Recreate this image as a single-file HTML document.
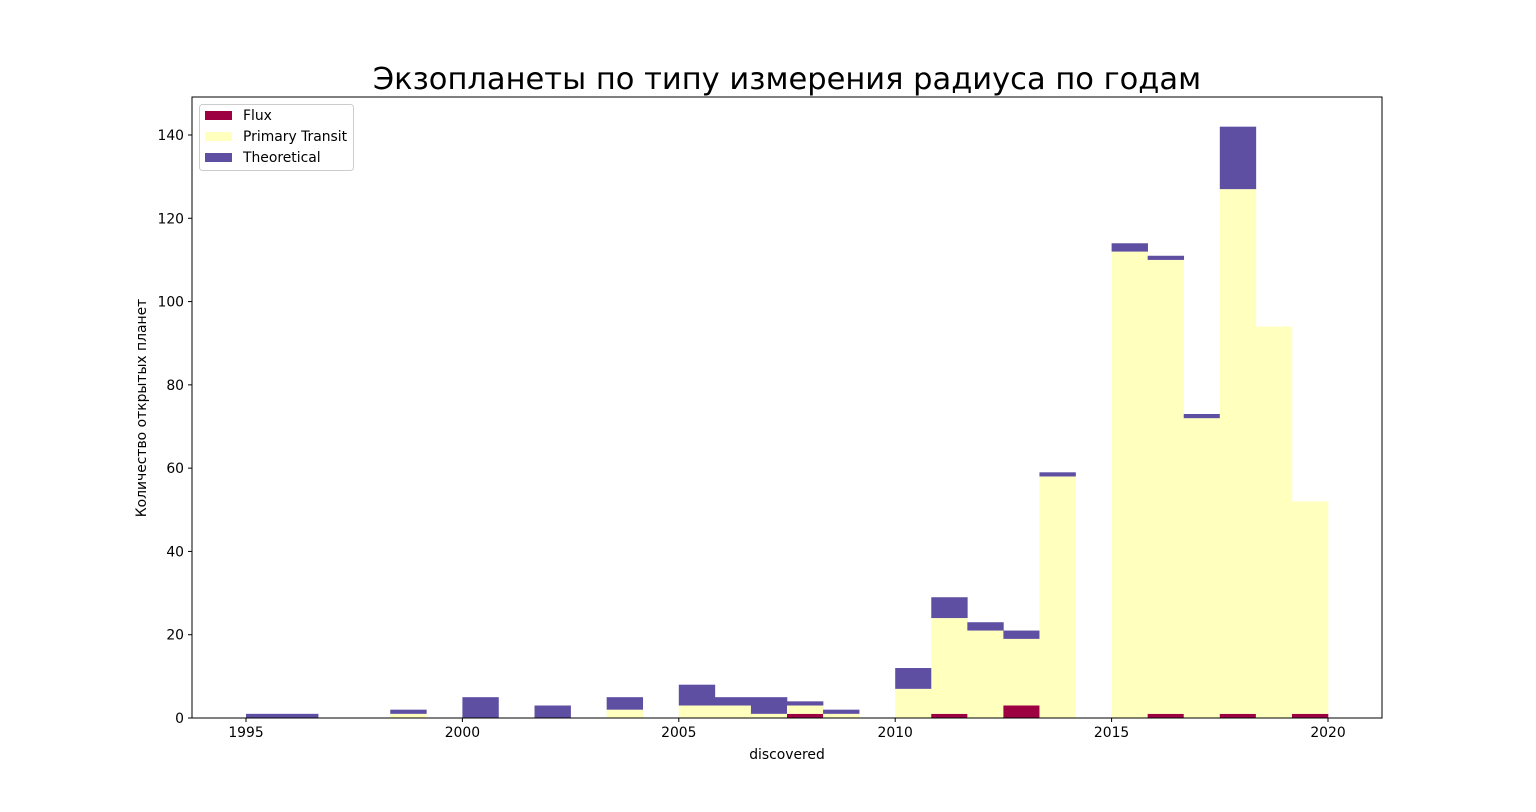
<!DOCTYPE html>
<html><head><meta charset="utf-8"><style>
body{margin:0;background:#fff;}
svg text{font-family:"DejaVu Sans","Liberation Sans",sans-serif;}
</style></head><body>
<svg id="chart" width="1536" height="807" xmlns="http://www.w3.org/2000/svg">
<text x="787" y="89" font-size="30.5" text-anchor="middle">Экзопланеты по типу измерения радиуса по годам</text>
<g id="bars"></g>
<g id="axes"></g>
<text x="787" y="759" font-size="13.9" text-anchor="middle">discovered</text>
<text transform="translate(146,408) rotate(-90)" font-size="13.9" text-anchor="middle">Количество открытых планет</text>
<g>
<rect x="199.5" y="104.5" width="154" height="66" rx="3" fill="#fff" stroke="#ccc"/>
<g><rect x="205" y="111" width="27" height="9" fill="#9e0142"/><text x="243" y="120" font-size="13.9">Flux</text></g>
<g><rect x="205" y="132" width="27" height="9" fill="#ffffbe"/><text x="243" y="141" font-size="13.9">Primary Transit</text></g>
<g><rect x="205" y="153" width="27" height="9" fill="#5e4fa2"/><text x="243" y="162" font-size="13.9">Theoretical</text></g>
</g>
</svg>
<script>
const binStart = 1995;
const binEnd = 2020;
const binCount = 30;
const flux =        [0,0,0,0,0,0,0,0,0,0,0,0,0,0,0,1,0,0,0,1,0,3,0,0,0,1,0,1,0,1];
const transit =     [0,0,0,0,1,0,0,0,0,0,2,0,3,3,1,2,1,0,7,23,21,16,58,0,112,109,72,126,94,51];
const theoretical = [1,1,0,0,1,0,5,0,3,0,3,0,5,2,4,1,1,0,5,5,2,2,1,0,2,1,1,15,0,0];
const xTicks = [1995,2000,2005,2010,2015,2020];
const yTicks = [0,20,40,60,80,100,120,140];
const NS='http://www.w3.org/2000/svg';
const X0=192,X1=1382,Y0=718,Y1=97;
const x = v => 246 + (v-1995)*(1328-246)/25;
const y = v => 718 - v*(718-135)/140;
const bars=document.getElementById('bars'), axes=document.getElementById('axes');
function mk(t,a,p){const e=document.createElementNS(NS,t);for(const k in a)e.setAttribute(k,a[k]);p.appendChild(e);return e;}
const w=(binEnd-binStart)/binCount;
const series=[[flux,'#9e0142','flux'],[transit,'#ffffbe','primary-transit'],[theoretical,'#5e4fa2','theoretical']];
for(let i=0;i<binCount;i++){
  let base=0;
  const a=binStart+i*w,b=a+w;
  for(const [arr,col,nm] of series){
    const v=arr[i];
    if(v>0){
      const r=mk('rect',{x:x(a),y:y(base+v),width:x(b)-x(a)+0.3,height:y(base)-y(base+v),fill:col},bars);
      
      
    }
    base+=v;
  }
}
const fr=mk('rect',{x:X0,y:Y1,width:X1-X0,height:Y0-Y1,fill:'none',stroke:'#000','stroke-width':1},axes);


for(const t of xTicks){
  mk('line',{x1:x(t),x2:x(t),y1:Y0,y2:Y0+4,stroke:'#000'},axes);
  const tx=mk('text',{x:x(t),y:Y0+19,'font-size':13.9,'text-anchor':'middle'},axes);
  tx.textContent=t;
  
  
}
for(const t of yTicks){
  mk('line',{x1:X0-4,x2:X0,y1:y(t),y2:y(t),stroke:'#000'},axes);
  const tx=mk('text',{x:X0-8,y:y(t)+5,'font-size':13.9,'text-anchor':'end'},axes);
  tx.textContent=t;
  
  
}
</script>
</body></html>
